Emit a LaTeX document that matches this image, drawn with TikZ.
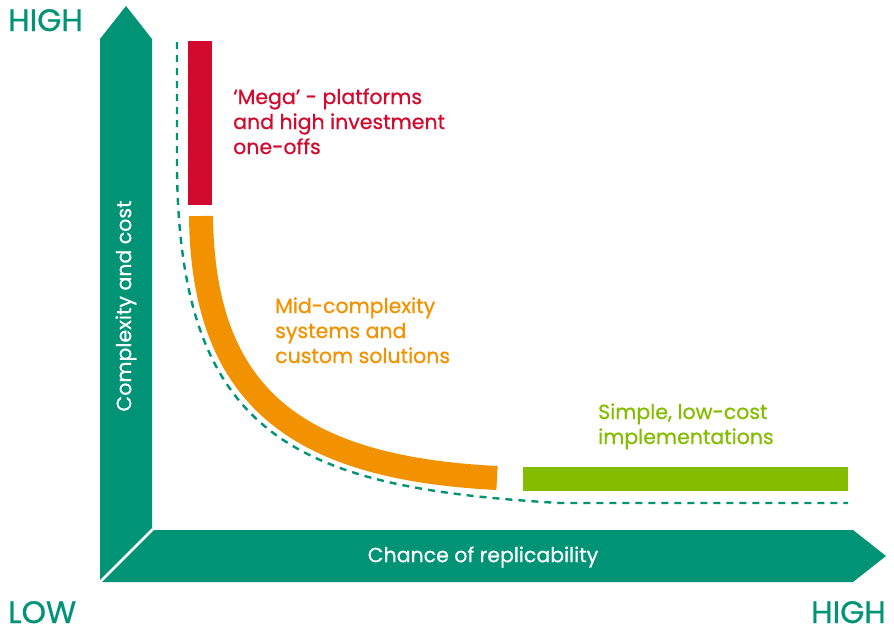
\documentclass[tikz,border=0pt]{standalone}
\usepackage{fontspec}
\setmainfont{Poppins}[FakeBold=0.7]
\usetikzlibrary{positioning}
\definecolor{axisgreen}{RGB}{0,147,118}
\definecolor{megared}{RGB}{209,10,46}
\definecolor{midorange}{RGB}{243,146,0}
\definecolor{simplegreen}{RGB}{132,188,0}

\begin{document}
\begin{tikzpicture}[
    x=1pt,
    y=-1pt,
    font=\normalfont,
    axis/.style={
		fill=axisgreen,
		draw=none
	},
	band/.style={
		line width=24pt
	},
	curve/.style={
		draw=axisgreen,
		line width=2.4pt,
		dash pattern=on 7pt off 6pt
	},
	tag/.style={
		font=\fontsize{20.5}{25}\selectfont,
		align=left,
		anchor=base west,
		inner sep=0pt
	},
	ends/.style={
		font=\fontsize{31}{31}\selectfont,
		text=axisgreen,
		inner sep=0pt
	}
  ]
\useasboundingbox (0,0) rectangle (894,630);

% // The axes
\fill [axis] (100,582) -- (100,39) -- (126,6) -- (152,39) -- (152,530) -- cycle;
\fill [axis] (100,582) -- (152,530) -- (853,530) -- (886,556) -- (853,582) -- cycle;
\draw [white, line width=2.5pt] (154,528) -- (98,584);

\node [tag, text=white, anchor=center] (xlabel) at (483,557) {Chance of replicability};
\node [tag, text=white, anchor=center, rotate=90] (ylabel) at (126,306) {Complexity and cost};

\node [ends, anchor=base west] (yhigh) at (8,31) {HIGH};
\node [ends, anchor=base west] (low) at (8,623) {LOW};
\node [ends, anchor=base east] (xhigh) at (886,623) {HIGH};

% // The curve
\draw [curve] (177,42) -- (177,170) .. controls (180,440) and (300,488) .. (560,503) -- (848,503);

\fill [megared] (188,41) rectangle (212,205);
\draw [band, midorange] (201,216) .. controls (203,400) and (300,468) .. (497,478);
\fill [simplegreen] (523,467) rectangle (848,491);

% // The labels
\node [tag, text=megared] (mega) at (233,154)
 {‘Mega’ - platforms\\and high investment\\one-offs};
\node [tag, text=midorange] (mid) at (275,363)
 {Mid-complexity\\systems and\\custom solutions};
\node [tag, text=simplegreen] (simple) at (598,444)
 {Simple, low-cost\\implementations};

\end{tikzpicture}
\end{document}
